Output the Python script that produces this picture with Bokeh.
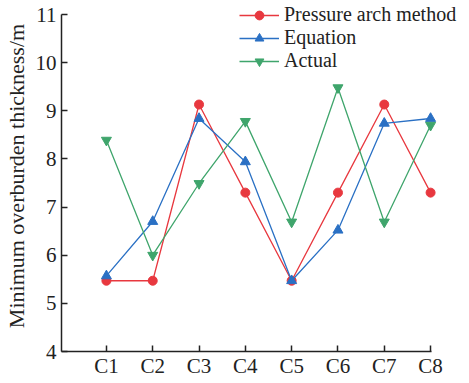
from bokeh.plotting import figure
from bokeh.models import Range1d, FixedTicker, Legend, LegendItem
from bokeh.embed import file_html
from bokeh.resources import INLINE

categories = ["C1", "C2", "C3", "C4", "C5", "C6", "C7", "C8"]
pressure_arch = [5.47, 5.47, 9.13, 7.30, 5.47, 7.30, 9.13, 7.30]
equation = [5.57, 6.70, 8.84, 7.94, 5.47, 6.52, 8.74, 8.84]
actual = [8.39, 6.00, 7.49, 8.78, 6.69, 9.48, 6.69, 8.70]
y_ticks = [4, 5, 6, 7, 8, 9, 10, 11]

xs = list(range(1, len(categories) + 1))

RED = "#e8383f"
BLUE = "#2a70c4"
GREEN = "#3fa56c"
FONT = "Liberation Serif"

FRAME_H = 351
FRAME_W = 404
p = figure(frame_width=FRAME_W, frame_height=FRAME_H, output_backend="svg", toolbar_location=None,
           x_range=Range1d(0.03, 8.754), y_range=Range1d(4, 11.291),
           min_border_left=54, min_border_top=0, min_border_right=0, min_border_bottom=20)
p.outline_line_color = None
p.grid.visible = False
p.background_fill_color = "white"

r1 = p.line(xs, pressure_arch, line_color=RED, line_width=1.3)
m1 = p.scatter(xs, pressure_arch, marker="circle", size=9, fill_color=RED, line_color=RED)
r2 = p.line(xs, equation, line_color=BLUE, line_width=1.3)
m2 = p.scatter(xs, equation, marker="triangle", size=10, fill_color=BLUE, line_color=BLUE)
r3 = p.line(xs, actual, line_color=GREEN, line_width=1.3)
m3 = p.scatter(xs, actual, marker="inverted_triangle", size=10, fill_color=GREEN, line_color=GREEN)

for ax in (p.xaxis[0], p.yaxis[0]):
    ax.axis_line_color = "#222222"
    ax.axis_line_width = 1.5
    ax.major_tick_line_color = "#222222"
    ax.major_tick_line_width = 1.5
    ax.major_tick_in = 6
    ax.major_tick_out = 0
    ax.minor_tick_line_color = None
    ax.major_label_text_font = FONT
    ax.major_label_text_font_size = "21px"
    ax.major_label_text_color = "#222222"

p.xaxis.ticker = FixedTicker(ticks=xs)
p.xaxis.major_label_overrides = {x: c for x, c in zip(xs, categories)}
p.xaxis.major_label_standoff = 2
p.xaxis.bounds = (0.03, 8.02)
p.yaxis.ticker = FixedTicker(ticks=y_ticks)
p.yaxis.major_label_standoff = 5
p.yaxis.bounds = (4, 11)
p.yaxis.axis_label = "Minimum overburden thickness/m"
p.yaxis.axis_label_text_font = FONT
p.yaxis.axis_label_text_font_size = "22px"
p.yaxis.axis_label_text_font_style = "normal"
p.yaxis.axis_label_text_color = "#222222"
p.yaxis.axis_label_standoff = 4

ROW = 22
legend = Legend(items=[
    LegendItem(label="Pressure arch method", renderers=[r1, m1]),
    LegendItem(label="Equation", renderers=[r2, m2]),
    LegendItem(label="Actual", renderers=[r3, m3]),
], location=(178, FRAME_H - 6 - 3 * ROW))
legend.padding = 0
legend.margin = 0
legend.spacing = 0
legend.glyph_width = 40
legend.glyph_height = ROW
legend.label_height = ROW
legend.label_standoff = 5
legend.label_text_font = FONT
legend.label_text_font_size = "20px"
legend.label_text_color = "#222222"
legend.border_line_color = None
legend.background_fill_alpha = 0
p.add_layout(legend, "center")

open("out.html", "w").write(file_html(p, INLINE))
